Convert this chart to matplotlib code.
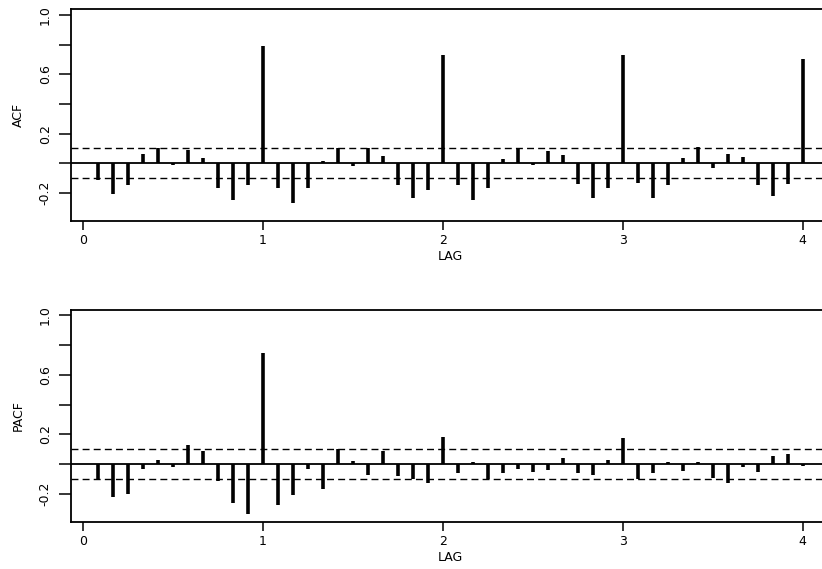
import numpy as np
import matplotlib
matplotlib.use("Agg")
import matplotlib.pyplot as plt

# lags are k/12 for k = 1..48 (monthly data, lag in years)
lag_index = np.arange(1, 49)

acf_vals = [-0.11, -0.21, -0.145, 0.063, 0.10, -0.015, 0.09, 0.035, -0.17, -0.246, -0.15, 0.794,
            -0.17, -0.27, -0.17, 0.018, 0.10, -0.018, 0.10, 0.05, -0.15, -0.235, -0.18, 0.734,
            -0.15, -0.246, -0.17, 0.027, 0.096, -0.015, 0.083, 0.056, -0.14, -0.235, -0.17, 0.734,
            -0.134, -0.235, -0.15, 0.034, 0.11, -0.03, 0.06, 0.045, -0.145, -0.22, -0.14, 0.705]

pacf_vals = [-0.10, -0.22, -0.20, -0.034, 0.03, -0.02, 0.127, 0.086, -0.113, -0.265, -0.333, 0.75,
             -0.277, -0.21, -0.034, -0.17, 0.10, 0.018, -0.073, 0.086, -0.08, -0.10, -0.13, 0.18,
             -0.06, 0.014, -0.10, -0.06, -0.034, -0.054, -0.04, 0.04, -0.06, -0.073, 0.03, 0.177,
             -0.10, -0.06, 0.014, -0.045, 0.014, -0.095, -0.13, -0.023, -0.054, 0.052, 0.07, -0.016]

conf_bound = 0.10
ytick_vals = [-0.2, 0.0, 0.2, 0.4, 0.6, 0.8, 1.0]
ytick_labels = ["-0.2", "", "0.2", "", "0.6", "", "1.0"]
xtick_vals = [0, 1, 2, 3, 4]

plt.rcParams['font.family'] = ['DejaVu Sans']

W, H = 822, 569
fig = plt.figure(figsize=(W / 100, H / 100), dpi=100)

left_px, right_px = 70.7, 831
panels = [(9.3, 221, acf_vals, "ACF"), (309.5, 522, pacf_vals, "PACF")]

for top_px, bot_px, vals, name in panels:
    ax = fig.add_axes([left_px / W, 1 - bot_px / H,
                       (right_px - left_px) / W, (bot_px - top_px) / H])
    lags = lag_index / 12
    ax.vlines(lags, 0, vals, color="black", lw=2.6)
    ax.axhline(0, color="black", lw=1.3)
    ax.axhline(conf_bound, color="black", lw=1.0, ls=(0, (5, 3)))
    ax.axhline(-conf_bound, color="black", lw=1.0, ls=(0, (5, 3)))

    ax.set_xlim(-0.067, 4.157)
    ax.set_ylim(-0.39, 1.04)
    ax.set_xticks(xtick_vals)
    ax.set_xticklabels([str(v) for v in xtick_vals], fontsize=9)
    ax.set_yticks(ytick_vals)
    ax.set_yticklabels(ytick_labels, fontsize=9, rotation=90, va="center")
    ax.tick_params(axis="x", length=6.5, width=1.1, pad=3)
    ax.tick_params(axis="y", length=8.6, width=1.1, pad=5)
    for s in ax.spines.values():
        s.set_linewidth(1.3)

    ax.set_xlabel("LAG", fontsize=9, va="center")
    ax.xaxis.set_label_coords(0.5, -0.168)
    ax.set_ylabel(name, fontsize=9, va="center")
    ax.yaxis.set_label_coords((18 - left_px) / (right_px - left_px), 0.5)

fig.savefig("out.png", dpi=100)
